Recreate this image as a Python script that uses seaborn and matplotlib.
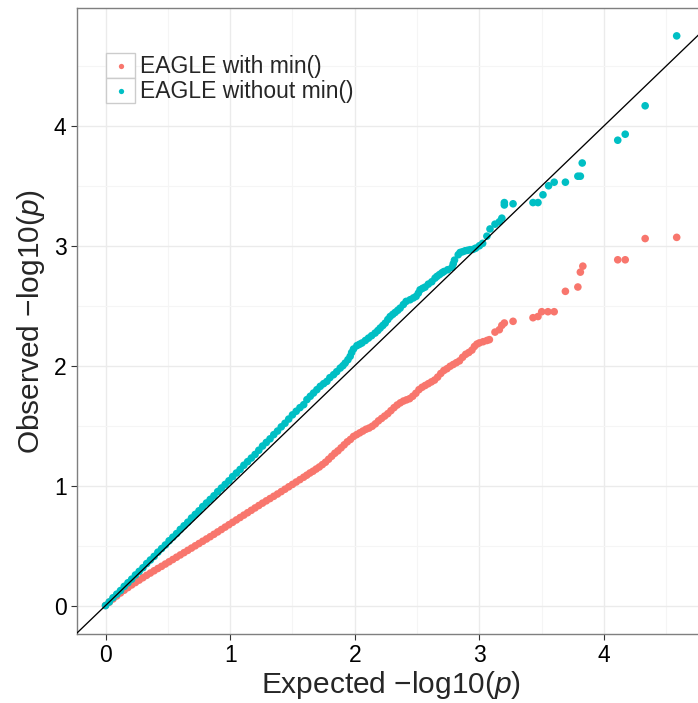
import matplotlib
matplotlib.use("Agg")
import matplotlib.pyplot as plt
from matplotlib.pyplot import MultipleLocator
from matplotlib.legend_handler import HandlerBase
from matplotlib.patches import Rectangle
from matplotlib.lines import Line2D
import seaborn as sns
import pandas as pd

# EAGLE without min() (cyan)
exp_without = [0.00, 0.03, 0.06, 0.09, 0.12, 0.15, 0.18, 0.21, 0.24, 0.27, 0.30, 0.33, 0.36, 0.39,
               0.42, 0.45, 0.48, 0.51, 0.54, 0.57, 0.60, 0.63, 0.66, 0.69, 0.72, 0.75, 0.78, 0.81,
               0.84, 0.87, 0.90, 0.93, 0.96, 0.99, 1.02, 1.05, 1.08, 1.11, 1.14, 1.17, 1.20, 1.23,
               1.26, 1.29, 1.32, 1.35, 1.38, 1.41, 1.44, 1.47, 1.50, 1.53, 1.56, 1.59, 1.616, 1.643,
               1.669, 1.696, 1.723, 1.75, 1.776, 1.80, 1.83, 1.855, 1.883, 1.905, 1.923, 1.945, 1.963,
               1.975, 1.99, 2.017, 2.037, 2.057, 2.085, 2.11, 2.135, 2.163, 2.185, 2.204, 2.225, 2.244,
               2.265, 2.284, 2.305, 2.324, 2.345, 2.364, 2.39, 2.412, 2.444, 2.47, 2.492, 2.51, 2.524,
               2.544, 2.564, 2.59, 2.618, 2.644, 2.66, 2.68, 2.70, 2.715, 2.745, 2.78, 2.79, 2.80,
               2.83, 2.845, 2.865, 2.885, 2.905, 2.925, 2.95, 2.97, 3.00, 3.026, 3.06, 3.085, 3.125,
               3.16, 3.18, 3.20, 3.20, 3.27, 3.43, 3.47, 3.51, 3.555, 3.60, 3.69, 3.79, 3.81, 3.825,
               4.11, 4.17, 4.33, 4.583]
obs_without = [0.00, 0.03, 0.065, 0.095, 0.125, 0.16, 0.19, 0.22, 0.255, 0.285, 0.315, 0.35, 0.38, 0.41,
               0.445, 0.475, 0.505, 0.54, 0.57, 0.60, 0.635, 0.665, 0.695, 0.73, 0.76, 0.79, 0.825, 0.855,
               0.885, 0.915, 0.95, 0.98, 1.01, 1.04, 1.075, 1.105, 1.135, 1.17, 1.20, 1.23, 1.26, 1.295,
               1.33, 1.36, 1.39, 1.425, 1.455, 1.49, 1.52, 1.555, 1.59, 1.62, 1.65, 1.675, 1.717, 1.745,
               1.772, 1.80, 1.828, 1.85, 1.869, 1.90, 1.925, 1.95, 1.98, 2.0, 2.022, 2.05, 2.078,
               2.11, 2.139, 2.167, 2.178, 2.189, 2.21, 2.23, 2.25, 2.272, 2.293, 2.314, 2.335, 2.355,
               2.385, 2.41, 2.428, 2.444, 2.462, 2.48, 2.51, 2.536, 2.55, 2.565, 2.578, 2.605, 2.633,
               2.645, 2.655, 2.68, 2.70, 2.73, 2.745, 2.76, 2.775, 2.785, 2.80, 2.82, 2.85, 2.88,
               2.925, 2.944, 2.95, 2.958, 2.962, 2.967, 2.97, 2.98, 3.00, 3.02, 3.08, 3.14, 3.18,
               3.20, 3.23, 3.34, 3.36, 3.35, 3.36, 3.36, 3.425, 3.50, 3.53, 3.53, 3.58, 3.58, 3.69,
               3.88, 3.93, 4.167, 4.75]

# EAGLE with min() (red)
exp_with = [0.00, 0.03, 0.06, 0.09, 0.12, 0.15, 0.18, 0.21, 0.24, 0.27, 0.30, 0.33, 0.36, 0.39,
            0.42, 0.45, 0.48, 0.51, 0.54, 0.57, 0.60, 0.63, 0.66, 0.69, 0.72, 0.75, 0.78, 0.81,
            0.84, 0.87, 0.90, 0.93, 0.96, 0.99, 1.02, 1.05, 1.08, 1.11, 1.14, 1.17, 1.20, 1.23,
            1.26, 1.29, 1.32, 1.35, 1.38, 1.41, 1.44, 1.47, 1.50, 1.53, 1.56, 1.59, 1.615, 1.64,
            1.665, 1.69, 1.715, 1.74, 1.765, 1.79, 1.815, 1.84, 1.865, 1.89, 1.915, 1.94, 1.965,
            1.99, 2.015, 2.04, 2.065, 2.09, 2.115, 2.14, 2.165, 2.19, 2.215, 2.24, 2.265, 2.29,
            2.315, 2.34, 2.365, 2.39, 2.415, 2.44, 2.465, 2.49, 2.515, 2.54, 2.565, 2.59, 2.615,
            2.64, 2.665, 2.69, 2.715, 2.74, 2.765, 2.79, 2.815, 2.84, 2.865, 2.89, 2.915, 2.94,
            2.96, 2.98, 3.00, 3.03, 3.06, 3.08, 3.125, 3.16, 3.18, 3.20, 3.27, 3.43, 3.47, 3.50,
            3.55, 3.60, 3.69, 3.79, 3.81, 3.83, 4.11, 4.17, 4.33, 4.583]
obs_with = [0.00, 0.028, 0.055, 0.08, 0.105, 0.128, 0.15, 0.172, 0.192, 0.212, 0.232, 0.252, 0.271, 0.29,
            0.309, 0.327, 0.346, 0.365, 0.384, 0.403, 0.422, 0.441, 0.46, 0.479, 0.498, 0.517, 0.536, 0.555,
            0.574, 0.594, 0.614, 0.634, 0.654, 0.674, 0.694, 0.714, 0.734, 0.754, 0.774, 0.794, 0.814, 0.834,
            0.854, 0.873, 0.892, 0.911, 0.93, 0.95, 0.97, 0.99, 1.01, 1.03, 1.05, 1.07, 1.087, 1.105,
            1.12, 1.138, 1.155, 1.175, 1.195, 1.22, 1.245, 1.27, 1.29, 1.315, 1.34, 1.365, 1.385,
            1.41, 1.425, 1.44, 1.455, 1.47, 1.48, 1.495, 1.515, 1.54, 1.56, 1.58, 1.60, 1.625,
            1.65, 1.672, 1.69, 1.705, 1.715, 1.725, 1.745, 1.77, 1.80, 1.82, 1.835, 1.85, 1.865,
            1.88, 1.905, 1.935, 1.96, 1.975, 1.995, 2.01, 2.025, 2.04, 2.07, 2.095, 2.11, 2.13,
            2.16, 2.18, 2.19, 2.20, 2.21, 2.217, 2.28, 2.30, 2.336, 2.356, 2.37, 2.40, 2.41, 2.45,
            2.45, 2.45, 2.62, 2.656, 2.78, 2.83, 2.883, 2.883, 3.06, 3.07]

methods = ['EAGLE with min()', 'EAGLE without min()']
colors = ['#F8766D', '#00BFC4']
x_ticks = [0, 1, 2, 3, 4]
y_ticks = [0, 1, 2, 3, 4]


class KeyBoxHandler(HandlerBase):
    # ggplot-like legend key: grey framed square with a dot in the middle
    def create_artists(self, legend, orig_handle, xdescent, ydescent, width, height, fontsize, trans):
        box = Rectangle((-xdescent, -ydescent), width, height, facecolor='white',
                        edgecolor='#CCCCCC', linewidth=1.0, transform=trans)
        dot = Line2D([-xdescent + width / 2], [-ydescent + height / 2], marker='o', linestyle='',
                     markersize=3.8, markerfacecolor=orig_handle.get_color(),
                     markeredgewidth=0, transform=trans)
        return [box, dot]


df = pd.concat([
    pd.DataFrame({'expected': exp_with, 'observed': obs_with, 'method': methods[0]}),
    pd.DataFrame({'expected': exp_without, 'observed': obs_without, 'method': methods[1]}),
])

sns.set_style('white')
plt.rcParams['font.family'] = ['Liberation Sans', 'DejaVu Sans']
plt.rcParams['mathtext.fontset'] = 'custom'
plt.rcParams['mathtext.rm'] = 'Liberation Sans'
plt.rcParams['mathtext.it'] = 'Liberation Sans:italic'

fig = plt.figure(figsize=(6.98, 7.03), dpi=100)
ax = fig.add_axes([0.1103, 0.0982, 0.8997, 0.890])

sns.scatterplot(data=df, x='expected', y='observed', hue='method', hue_order=methods,
                palette=colors, s=30, linewidth=0, alpha=1, legend=False, ax=ax, zorder=2)
ax.axline((0, 0), slope=1, color='black', linewidth=0.95, zorder=3)

ax.set_xlim(-0.229, 4.81)
ax.set_ylim(-0.237, 4.98)
ax.set_xticks(x_ticks)
ax.set_yticks(y_ticks)
ax.xaxis.set_minor_locator(MultipleLocator(0.5))
ax.yaxis.set_minor_locator(MultipleLocator(0.5))
ax.grid(which='major', color='#EBEBEB', linewidth=1.0)
ax.grid(which='minor', color='#F5F5F5', linewidth=0.8)
ax.set_axisbelow(True)
ax.tick_params(which='major', length=4, width=0.8, color='#333333', labelsize=16.5,
               labelcolor='black', pad=3.5, bottom=True, left=True)
ax.tick_params(which='minor', length=0)
for s in ax.spines.values():
    s.set_color('#7F7F7F')
    s.set_linewidth(1.0)

ax.set_xlabel('Expected \u2212log10($p$)', fontsize=21.5, labelpad=1)
ax.set_ylabel('Observed \u2212log10($p$)', fontsize=21.5, labelpad=5)

handles = [Line2D([], [], color=c) for c in colors]
ax.legend(handles, methods, handler_map={Line2D: KeyBoxHandler()},
          loc='upper left', bbox_to_anchor=(0.152, 0.924), bbox_transform=fig.transFigure,
          frameon=False, fontsize=16.5, handlelength=1.27, handleheight=1.27,
          labelspacing=0.0, handletextpad=0.22, borderpad=0, borderaxespad=0)

plt.savefig('out.png', dpi=100)
